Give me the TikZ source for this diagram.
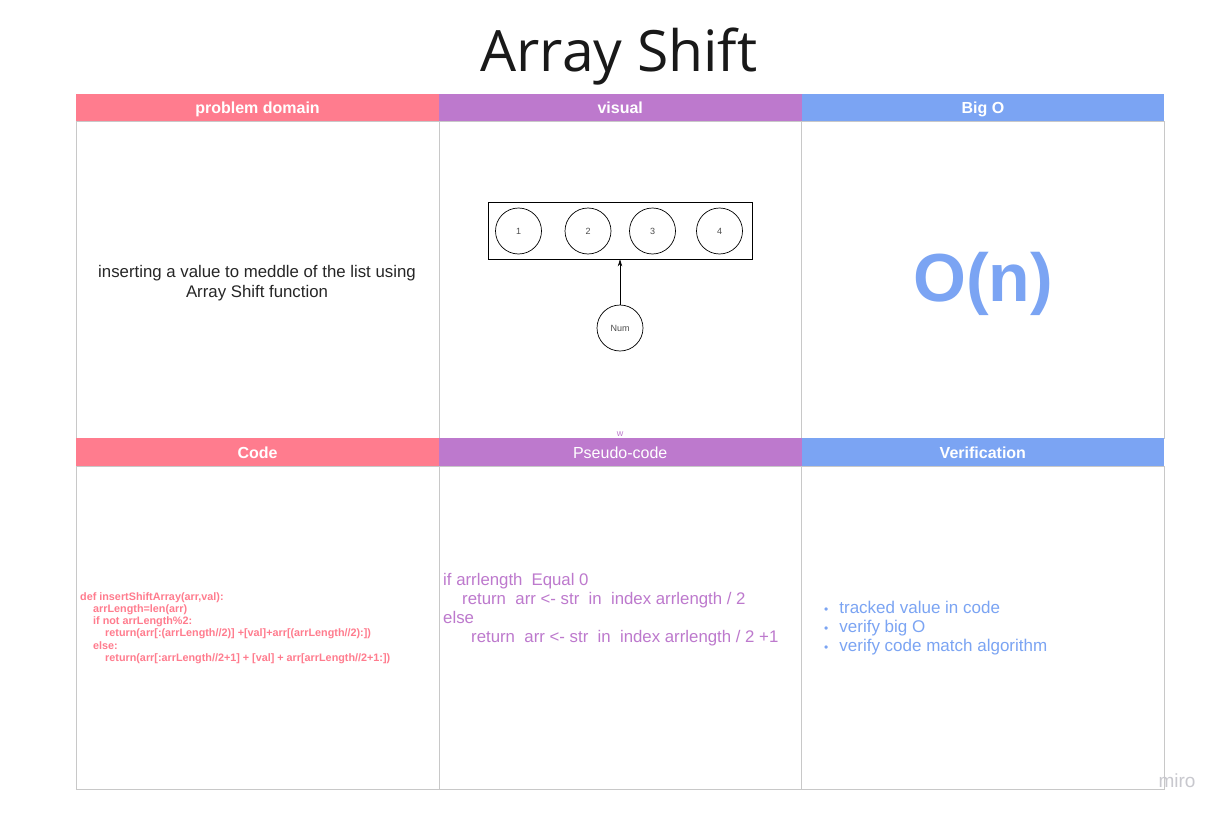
\documentclass[tikz,border=0pt]{standalone}
\usepackage{fontspec}
\setmainfont{Liberation Sans}
\newfontfamily\titlefont{Open Sans}
\usetikzlibrary{arrows.meta}
\definecolor{hpink}{RGB}{255,124,142}
\definecolor{hpurple}{RGB}{189,121,205}
\definecolor{hblue}{RGB}{123,164,243}
\definecolor{gridgray}{RGB}{200,200,200}
\definecolor{mirogray}{RGB}{200,200,206}
\begin{document}
\begin{tikzpicture}[x=1pt,y=-1pt,
  hdr/.style={minimum width=362.67pt,inner sep=0pt,text=white,font=\fontsize{16}{18}\selectfont\bfseries,anchor=north west,text height=13.5pt,text depth=1.5pt},
  cell/.style={draw=gridgray,line width=0.8pt,minimum width=362.67pt,inner sep=0pt,anchor=north west},
  ball/.style={circle,draw,line width=0.7pt,minimum size=46pt,inner sep=0pt,font=\fontsize{9}{10}\selectfont,text=black!70}]
\useasboundingbox (0,0) rectangle (1224,816);
\fill[white] (0,0) rectangle (1224,816);
% title
\node[font=\titlefont\fontsize{57}{64}\selectfont,text=black!90] (title) at (619,57) {Array Shift};
% body cells
\node[cell,minimum height=317pt] (c11) at (76,121) {};
\node[cell,minimum height=317pt] (c12) at (438.67,121) {};
\node[cell,minimum height=317pt] (c13) at (801.33,121) {};
\node[cell,minimum height=323pt] (c21) at (76,466) {};
\node[cell,minimum height=323pt] (c22) at (438.67,466) {};
\node[cell,minimum height=323pt] (c23) at (801.33,466) {};
% headers
\node[hdr,fill=hpink,minimum height=27pt] (h11) at (76,94) {problem domain};
\node[hdr,fill=hpurple,minimum height=27pt] (h12) at (438.67,94) {visual};
\node[hdr,fill=hblue,minimum height=27pt] (h13) at (801.33,94) {Big O};
\node[hdr,fill=hpink,minimum height=28pt] (h21) at (76,438) {Code};
\node[hdr,fill=hpurple,minimum height=28pt] (h22) at (438.67,438) {\mdseries Pseudo-code};
\node[hdr,fill=hblue,minimum height=28pt] (h23) at (801.33,438) {Verification};
% problem domain
\node[align=center,font=\fontsize{16.8}{20}\selectfont,text=black!85] (pd) at (257,283) {inserting a value to meddle of the list using\\Array Shift function};
% visual
\node[draw,line width=0.8pt,minimum width=264pt,minimum height=57pt,inner sep=0pt] (arr) at (620,230.5) {};
\node[ball] (b1) at (518.5,231) {1};
\node[ball] (b2) at (588,231) {2};
\node[ball] (b3) at (652.5,231) {3};
\node[ball] (b4) at (719.5,231) {4};
\node[ball] (num) at (620,328) {Num};
\draw[line width=0.7pt,-{Stealth[length=7pt,width=4.5pt]}] (num.north) -- (arr.south);
\node[text=hpurple,font=\fontsize{9}{10}\selectfont] (w) at (620,434) {w};
% big O
\node[text=hblue,font=\fontsize{68}{70}\selectfont\bfseries] (bigo) at (983,284) {O(n)};
% code
\node[anchor=north west,align=left,text=hpink,inner sep=0pt,font=\fontsize{10.8}{12.3}\selectfont\bfseries] (code) at (80,592) {def insertShiftArray(arr,val):\\
\hspace*{13pt}arrLength=len(arr)\\
\hspace*{13pt}if not arrLength\%2:\\
\hspace*{25pt}return(arr[:(arrLength//2)] +[val]+arr[(arrLength//2):])\\
\hspace*{13pt}else:\\
\hspace*{25pt}return(arr[:arrLength//2+1] + [val] + arr[arrLength//2+1:])};
% pseudo-code
\node[anchor=north west,align=left,text=hpurple,inner sep=0pt,font=\fontsize{16.8}{19}\selectfont] (pseudo) at (443,573) {if arrlength\hspace{9pt}Equal 0\\
\hspace*{19pt}return\ \ arr <- str\ \ in\ \ index arrlength / 2\\
else\\
\hspace*{28pt}return\ \ arr <- str\ \ in\ \ index arrlength / 2 +1};
% verification
\node[anchor=north west,align=left,text=hblue,inner sep=0pt,font=\fontsize{17}{19}\selectfont] (ver) at (824,601) {{\fontsize{12}{12}\selectfont\textbullet}\hspace{11pt}tracked value in code\\
{\fontsize{12}{12}\selectfont\textbullet}\hspace{11pt}verify big O\\
{\fontsize{12}{12}\selectfont\textbullet}\hspace{11pt}verify code match algorithm};
% miro logo
\node[text=mirogray,font=\fontsize{19}{20}\selectfont] (miro) at (1177,781) {miro};
\end{tikzpicture}
\end{document}
